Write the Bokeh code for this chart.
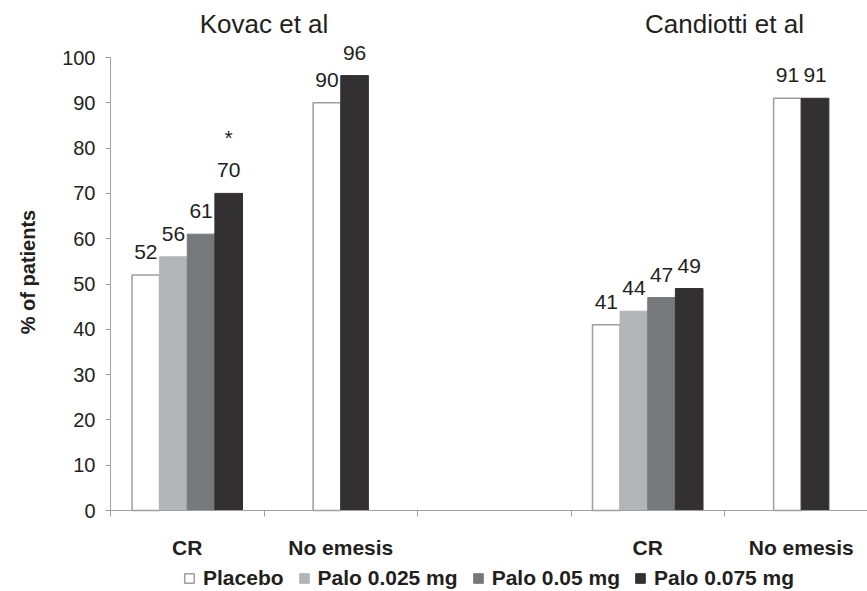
import math
from bokeh.plotting import figure
from bokeh.models import (FixedTicker, Label, LabelSet, Legend, LegendItem,
                          ColumnDataSource, Range1d)
from bokeh.core.properties import value
from bokeh.embed import file_html
from bokeh.resources import INLINE

# ---------------- data ----------------
studies = ["Kovac et al", "Candiotti et al"]
endpoints = ["CR", "No emesis"]
arms = ["Placebo", "Palo 0.025 mg", "Palo 0.05 mg", "Palo 0.075 mg"]

kovac_cr = [52, 56, 61, 70]
kovac_no_emesis = [90, None, None, 96]
candiotti_cr = [41, 44, 47, 49]
candiotti_no_emesis = [91, None, None, 91]
kovac_cr_sig = ["", "", "", "*"]
kovac_no_emesis_sig = ["", "", "", ""]
candiotti_cr_sig = ["", "", "", ""]
candiotti_no_emesis_sig = ["", "", "", ""]

y_ticks = [0, 10, 20, 30, 40, 50, 60, 70, 80, 90, 100]
y_title = "% of patients"

values = {
    ("Kovac et al", "CR"): (kovac_cr, kovac_cr_sig),
    ("Kovac et al", "No emesis"): (kovac_no_emesis, kovac_no_emesis_sig),
    ("Candiotti et al", "CR"): (candiotti_cr, candiotti_cr_sig),
    ("Candiotti et al", "No emesis"): (candiotti_no_emesis, candiotti_no_emesis_sig),
}

# ---------------- styles / layout ----------------
fills = ["#ffffff", "#b3b4b8", "#77787c", "#323031"]
lines = ["#9d9d9d", "#b3b4b8", "#77787c", "#323031"]
TXT = "#231f20"
AX = "#a0a0a0"
FONT = "Liberation Sans"
BAR_W = 0.18
SLOTS_PER_STUDY = len(endpoints) + 1   # blank slot between studies
W, H = 867, 591
AX_X, AX_Y = 110, 510          # pixel position of the axes' origin
PX_X, PX_Y = 153.5, 4.53       # pixels per slot / per percent

# ---------------- bar positions ----------------
per_arm = {a: dict(x=[], top=[], label=[], sig=[]) for a in arms}
slot_pos = []
slot_labels = {}
for si, s in enumerate(studies):
    for ei, e in enumerate(endpoints):
        slot = si * SLOTS_PER_STUDY + ei
        slot_pos.append(slot)
        slot_labels[slot] = e
        vals, sig = values[(s, e)]
        present = [i for i, v in enumerate(vals) if v is not None]
        n = len(present)
        for k, i in enumerate(present):
            d = per_arm[arms[i]]
            d["x"].append(slot + (k - (n - 1) / 2) * BAR_W)
            d["top"].append(vals[i])
            d["label"].append(str(vals[i]))
            d["sig"].append(sig[i])

n_slots = len(studies) * SLOTS_PER_STUDY - 1
x0 = -0.5
boundaries = [x0 + b for b in range(n_slots + 1)]

x_start = x0 - AX_X / PX_X
x_end = x0 + (W - AX_X) / PX_X
y_start = y_ticks[0] - (H - AX_Y) / PX_Y
y_end = y_ticks[0] + AX_Y / PX_Y

p = figure(width=W, height=H, output_backend="svg", toolbar_location=None,
           x_range=Range1d(x_start, x_end), y_range=Range1d(y_start, y_end),
           min_border=0)
p.outline_line_color = None
p.xgrid.visible = False
p.ygrid.visible = False
p.background_fill_color = "white"

items = []
for i, a in enumerate(arms):
    src = ColumnDataSource(per_arm[a])
    r = p.vbar(x="x", top="top", width=BAR_W, source=src,
               fill_color=fills[i], line_color=lines[i],
               line_width=1.5 if i == 0 else 1)
    items.append(LegendItem(label=a, renderers=[r]))
    p.add_layout(LabelSet(x="x", y="top", text="label", source=src,
                          text_align="center", text_baseline="alphabetic",
                          y_offset=16, text_font=value(FONT),
                          text_font_size="21px", text_color=TXT))
    p.add_layout(LabelSet(x="x", y="top", text="sig", source=src,
                          text_align="center", text_baseline="alphabetic",
                          y_offset=48, text_font=value(FONT),
                          text_font_size="21px", text_color=TXT))

# study titles centred over their two endpoint slots
for si, s in enumerate(studies):
    cx = si * SLOTS_PER_STUDY + (len(endpoints) - 1) / 2
    p.add_layout(Label(x=cx, y=y_ticks[-1], y_offset=34, text=s,
                       text_align="center", text_baseline="alphabetic",
                       text_font=FONT, text_font_size="26px", text_color=TXT))

# y axis title
p.add_layout(Label(x=x0, y=(y_ticks[0] + y_ticks[-1]) / 2, x_offset=-83,
                   y_offset=12, angle=math.pi / 2, text=y_title,
                   text_align="center", text_baseline="middle",
                   text_font=FONT, text_font_style="bold",
                   text_font_size="20px", text_color=TXT))

# axes
yax = p.yaxis[0]
yax.fixed_location = x0
yax.bounds = (y_ticks[0], y_ticks[-1])
yax.ticker = FixedTicker(ticks=y_ticks)
yax.axis_line_color = AX
yax.major_tick_line_color = AX
yax.major_tick_in = 0
yax.major_tick_out = 5
yax.minor_tick_line_color = None
yax.major_label_text_font = FONT
yax.major_label_text_font_size = "20px"
yax.major_label_text_color = TXT
yax.major_label_standoff = 10

xax = p.xaxis[0]
xax.fixed_location = y_ticks[0]
xax.bounds = (x0, x_end)
xax.ticker = FixedTicker(ticks=slot_pos, minor_ticks=boundaries)
xax.major_label_overrides = slot_labels
xax.axis_line_color = AX
xax.major_tick_line_color = None
xax.major_tick_in = 0
xax.major_tick_out = 0
xax.minor_tick_line_color = AX
xax.minor_tick_in = 0
xax.minor_tick_out = 6
xax.major_label_text_font = FONT
xax.major_label_text_font_style = "bold"
xax.major_label_text_font_size = "21px"
xax.major_label_text_color = TXT
xax.major_label_standoff = 19

legend = Legend(items=items, orientation="horizontal", location=(183, 1),
                label_text_font=FONT, label_text_font_style="bold",
                label_text_font_size="21px", label_text_color=TXT,
                glyph_width=12, glyph_height=12, label_standoff=8,
                spacing=14, padding=0, margin=0, border_line_color=None,
                background_fill_alpha=0)
p.add_layout(legend, "center")

open("out.html", "w").write(file_html(p, INLINE))
